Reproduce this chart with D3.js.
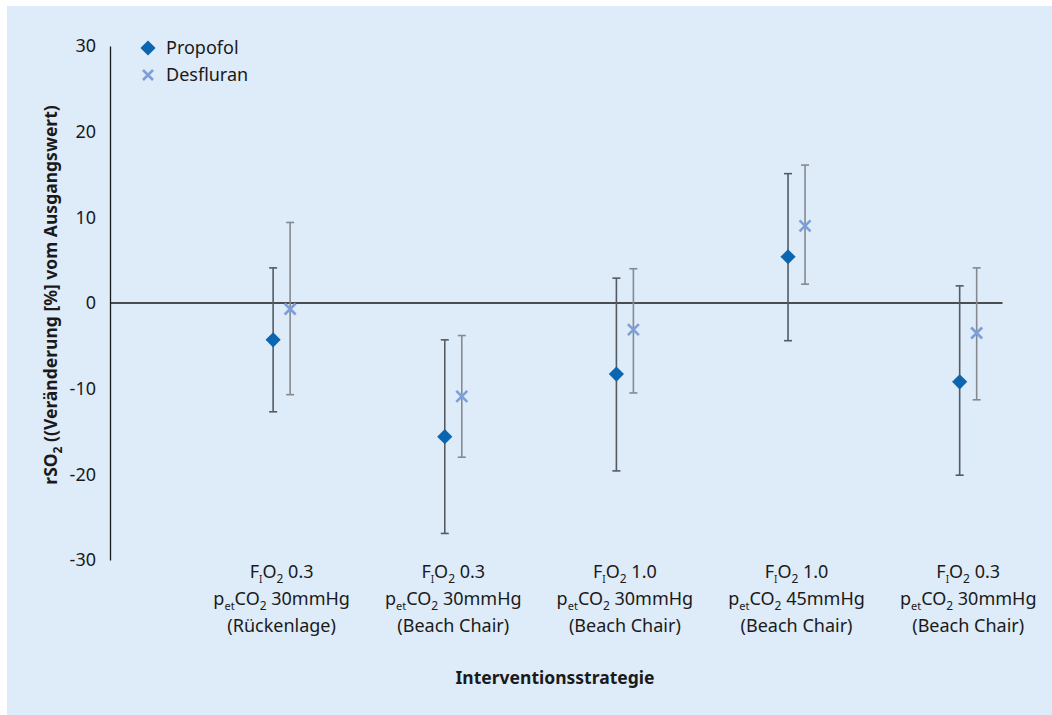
<!DOCTYPE html>
<html><head><meta charset="utf-8">
<script src="https://cdn.jsdelivr.net/npm/d3@7"></script>
<style>body{margin:0;background:#fff;} svg{display:block;font-family:"Noto Sans",sans-serif;}</style>
</head><body>
<svg id="c" width="1052" height="715"></svg>
<script>
const categories = [
  {fio2:"0.3", petco2:"30mmHg", pos:"(Rückenlage)"},
  {fio2:"0.3", petco2:"30mmHg", pos:"(Beach Chair)"},
  {fio2:"1.0", petco2:"30mmHg", pos:"(Beach Chair)"},
  {fio2:"1.0", petco2:"45mmHg", pos:"(Beach Chair)"},
  {fio2:"0.3", petco2:"30mmHg", pos:"(Beach Chair)"}
];
const propofolMean = [-4.3, -15.6, -8.3, 5.4, -9.2];
const propofolUpper = [4.1, -4.3, 2.9, 15.1, 2.0];
const propofolLower = [-12.7, -26.9, -19.6, -4.4, -20.1];
const desfluranMean = [-0.7, -10.9, -3.1, 9.0, -3.5];
const desfluranUpper = [9.4, -3.8, 4.0, 16.1, 4.1];
const desfluranLower = [-10.7, -18.0, -10.5, 2.2, -11.3];
const yTicks = [30, 20, 10, 0, -10, -20, -30];

const svg = d3.select("#c");
svg.append("rect").attr("x",7).attr("y",6).attr("width",1045).attr("height",709).attr("fill","#deebf8");

const x = d3.scaleLinear().domain([0, 5.2]).range([110, 1002.5]);
const y = d3.scaleLinear().domain([-30, 30]).range([560, 46]);
const off = 8.5;

// y axis
const yAxis = d3.axisLeft(y).tickValues(yTicks).tickSize(0).tickPadding(14).tickFormat(d => String(d));
const ya = svg.append("g").attr("transform","translate(110,0)").call(yAxis);
ya.select(".domain").attr("stroke","#1a1a1a").attr("stroke-width",1.3);
ya.selectAll("text").attr("font-size",18).attr("fill","#1a1a1a").attr("font-family","Noto Sans");

// zero line
svg.append("line").attr("x1",x(0)).attr("x2",x(5.2)).attr("y1",y(0)).attr("y2",y(0))
  .attr("stroke","#1a1a1a").attr("stroke-width",1.5);

// y label
const yl = svg.append("text").attr("transform",`translate(57,${(46+560)/2 - 8}) rotate(-90)`)
  .attr("text-anchor","middle").attr("font-weight","bold").attr("font-size",17.5).attr("fill","#1a1a1a");
yl.append("tspan").text("rSO");
yl.append("tspan").text("2").attr("font-size",12).attr("dy",5);
yl.append("tspan").text(" ((Veränderung [%] vom Ausgangswert)").attr("dy",-5);

// error bars
function errBars(means, up, lo, dx, color, w) {
  const g = svg.append("g");
  means.forEach((m,i) => {
    const cx = x(i+1) + dx;
    g.append("line").attr("x1",cx).attr("x2",cx).attr("y1",y(up[i])).attr("y2",y(lo[i]))
      .attr("stroke",color).attr("stroke-width",w);
    [up[i], lo[i]].forEach(v => g.append("line").attr("x1",cx-4).attr("x2",cx+4)
      .attr("y1",y(v)).attr("y2",y(v)).attr("stroke",color).attr("stroke-width",w));
  });
}
errBars(propofolMean, propofolUpper, propofolLower, -off, "#555a60", 1.6);
errBars(desfluranMean, desfluranUpper, desfluranLower, off, "#858a90", 1.6);

const diamond = d3.symbol().type(d3.symbolSquare).size(115);
function drawDiamond(g, cx, cy) {
  g.append("path").attr("d", diamond()).attr("transform",`translate(${cx},${cy}) rotate(45)`).attr("fill","#0b66b2");
}
function drawCross(g, cx, cy, r) {
  g.append("path").attr("d",`M${-r},${-r}L${r},${r}M${-r},${r}L${r},${-r}`)
    .attr("transform",`translate(${cx},${cy})`).attr("stroke","#7d9fd8").attr("stroke-width",2.6).attr("fill","none");
}
const pts = svg.append("g");
propofolMean.forEach((m,i) => drawDiamond(pts, x(i+1)-off, y(m)));
desfluranMean.forEach((m,i) => drawCross(pts, x(i+1)+off, y(m), 5.5));

// x labels
const xl = svg.append("g").attr("font-size",18).attr("fill","#1a1a1a");
categories.forEach((c,i) => {
  const cx = x(i+1);
  const t1 = xl.append("text").attr("x",cx).attr("y",578).attr("text-anchor","middle");
  t1.append("tspan").text("F");
  t1.append("tspan").text("I").attr("font-size",10).attr("dy",5);
  t1.append("tspan").text("O").attr("dy",-5);
  t1.append("tspan").text("2").attr("font-size",12).attr("dy",5);
  t1.append("tspan").text(" " + c.fio2).attr("dy",-5);
  const t2 = xl.append("text").attr("x",cx).attr("y",605).attr("text-anchor","middle");
  t2.append("tspan").text("p");
  t2.append("tspan").text("et").attr("font-size",11).attr("dy",5);
  t2.append("tspan").text("CO").attr("dy",-5);
  t2.append("tspan").text("2").attr("font-size",12).attr("dy",5);
  t2.append("tspan").text(" " + c.petco2).attr("dy",-5);
  xl.append("text").attr("x",cx).attr("y",632).attr("text-anchor","middle").text(c.pos);
});

svg.append("text").attr("x",555).attr("y",684).attr("text-anchor","middle")
  .attr("font-weight","bold").attr("font-size",17.5).attr("fill","#1a1a1a").text("Interventionsstrategie");

// legend
const lg = svg.append("g").attr("font-size",18).attr("fill","#1a1a1a");
drawDiamond(lg, 148, 48);
lg.append("text").attr("x",166).attr("y",54).text("Propofol");
drawCross(lg, 148, 75, 5);
lg.append("text").attr("x",166).attr("y",81).text("Desfluran");
</script>
</body></html>
